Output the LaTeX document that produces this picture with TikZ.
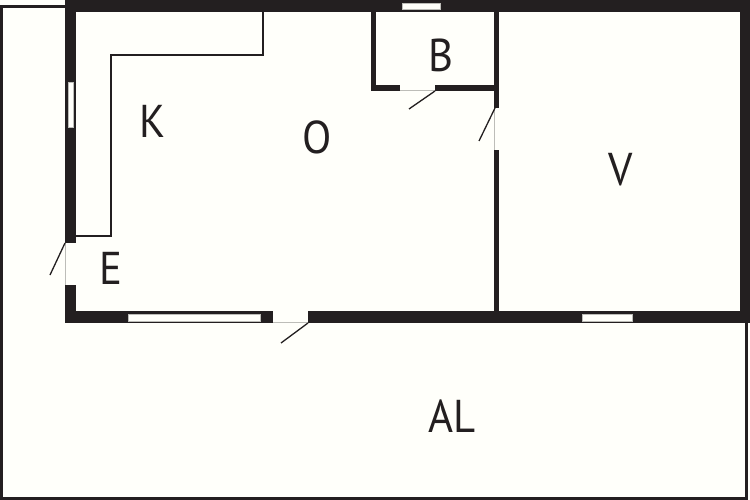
\documentclass[tikz,border=0pt]{standalone}
\usepackage{fontspec}
\setmainfont{PT Sans}
\definecolor{ink}{HTML}{231F20}
\definecolor{paper}{HTML}{FFFFFA}
\definecolor{sill}{HTML}{BDBDB8}
\tikzset{
  wall/.style={fill=ink,draw=none},
  glass/.style={fill=paper,draw=sill,line width=0.5pt},
  thin line/.style={draw=ink,line width=1.5pt,line join=miter},
  door leaf/.style={draw=ink,line width=1.3pt},
  threshold/.style={draw=sill,line width=1pt},
  room/.style={font=\fontsize{46}{46}\selectfont,text=ink,inner sep=0pt,xscale=0.93}
}
\begin{document}
\begin{tikzpicture}[x=1pt,y=-1pt]
\useasboundingbox (0,0) rectangle (750,500);
\fill[paper] (0,0) rectangle (750,500);
% plot outline
\draw[ink,line width=3pt,line join=miter] (65,6.5) -- (1.5,6.5) -- (1.5,498.3) -- (746.5,498.3) -- (746.5,322);
% outer walls
\fill[wall] (65,0) rectangle (750,12);
\fill[wall] (65,0) rectangle (76,243);
\fill[wall] (65,285) rectangle (76,323);
\fill[wall] (65,311) rectangle (273,323);
\fill[wall] (308,311) rectangle (750,323);
\fill[wall] (740,0) rectangle (750,323);
% bathroom and partition walls
\fill[wall] (371,12) rectangle (376,91);
\fill[wall] (371,85) rectangle (400,91);
\fill[wall] (435,85) rectangle (499,91);
\fill[wall] (494,12) rectangle (499,108);
\fill[wall] (494,150) rectangle (499,311);
% windows
\path[glass] (68,82) rectangle (73.5,127);
\path[glass] (128,314) rectangle (260,321);
\path[glass] (582,314) rectangle (632,321);
\path[glass] (402,3) rectangle (440,9);
% door thresholds
\draw[threshold] (65,243) -- (65,285);
\draw[threshold] (273,322.5) -- (308,322.5);
\draw[threshold] (400,91) -- (435,91);
\draw[threshold] (494,108) -- (494,150);
% door leaves
\draw[door leaf] (65,243) -- (50,275);
\draw[door leaf] (308,323) -- (281,343);
\draw[door leaf] (435,91) -- (409,109);
\draw[door leaf] (495,108) -- (479,141);
% kitchen counter
\draw[thin line] (263,12) -- (263,55) -- (111,55) -- (111,236) -- (76,236);
% labels
\node[room] (k) at (153,121) {K};
\node[room] (o) at (317,137) {O};
\node[room] (b) at (441,55) {B};
\node[room] (e) at (111,268) {E};
\node[room] (v) at (621,170) {V};
\node[room] (al) at (452,416) {AL};
\end{tikzpicture}
\end{document}
